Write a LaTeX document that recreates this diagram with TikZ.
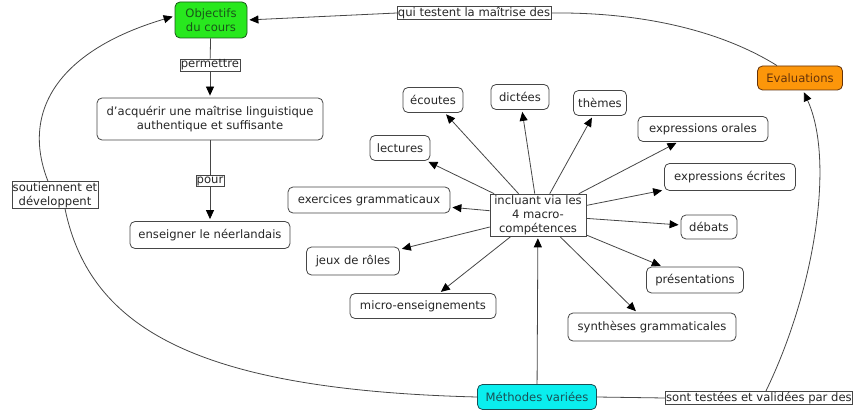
\documentclass[tikz,border=0pt]{standalone}
\usepackage{fontspec}
\setmainfont{DejaVu Sans}
\usetikzlibrary{arrows.meta}
\definecolor{cgreen}{RGB}{40,232,30}
\definecolor{cgreentx}{RGB}{25,85,25}
\definecolor{corange}{RGB}{252,150,10}
\definecolor{corangetx}{RGB}{100,50,10}
\definecolor{ccyan}{RGB}{10,238,238}
\definecolor{ccyantx}{RGB}{25,80,85}
\definecolor{cline}{RGB}{70,70,70}
\begin{document}
\begin{tikzpicture}[x=1pt,y=-1pt,
  concept/.style={draw=cline,rounded corners=5pt,fill=white,font=\fontsize{11.6}{14}\selectfont,align=center,inner xsep=4pt,inner ysep=3pt,line width=0.8pt,text=black!85},
  linkph/.style={draw=cline,fill=white,font=\fontsize{11.6}{14}\selectfont,align=center,inner sep=0.8pt,line width=0.6pt,text=black!85},
  conn/.style={draw=cline,line width=0.8pt},
  arr/.style={conn,-{Triangle[length=9pt,width=8pt,color=black]},shorten >=2pt}]
\useasboundingbox (0,0) rectangle (857,412);
\node[concept,fill=cgreen,draw=cgreentx,text=cgreentx,minimum width=72pt,minimum height=36pt] (obj) at (211,20) {Objectifs\\du cours};
\node[linkph] (qui) at (474,13) {qui testent la maîtrise des};
\node[concept,fill=corange,draw=corangetx,text=corangetx,minimum width=85pt,minimum height=24pt] (eval) at (800,78) {Evaluations};
\node[linkph] (perm) at (210,65) {permettre};
\node[concept,minimum width=226pt,minimum height=42pt] (acq) at (210,119) {d'acquérir une maîtrise linguistique\\authentique et suffisante};
\node[linkph] (pour) at (210,181) {pour};
\node[concept,minimum width=160pt,minimum height=27pt] (ens) at (210,235) {enseigner le néerlandais};
\node[linkph] (sout) at (55,195) {soutiennent et\\développent};
\node[concept,minimum width=60pt,minimum height=25pt] (ecout) at (433,100) {écoutes};
\node[concept,minimum width=58pt,minimum height=25pt] (dict) at (520,97) {dictées};
\node[concept,minimum width=53pt,minimum height=25pt] (them) at (600,103) {thèmes};
\node[concept,minimum width=130pt,minimum height=25pt] (expo) at (703,129) {expressions orales};
\node[concept,minimum width=60pt,minimum height=25pt] (lect) at (400,148) {lectures};
\node[concept,minimum width=162pt,minimum height=26pt] (exer) at (369,200) {exercices grammaticaux};
\node[linkph,minimum width=96pt,minimum height=42pt,inner sep=0pt] (inc) at (538,215) {incluant via les\\4 macro-\\compétences};
\node[concept,minimum width=131pt,minimum height=27pt] (expe) at (730,177) {expressions écrites};
\node[concept,minimum width=56pt,minimum height=24pt] (deb) at (709,227) {débats};
\node[concept,minimum width=97pt,minimum height=26pt] (pres) at (695,280) {présentations};
\node[concept,minimum width=93pt,minimum height=28pt] (jeux) at (353,261) {jeux de rôles};
\node[concept,minimum width=146pt,minimum height=25pt] (micro) at (423,306) {micro-enseignements};
\node[concept,minimum width=168pt,minimum height=28pt] (synth) at (652,327) {synthèses grammaticales};
\node[concept,fill=ccyan,draw=ccyantx,text=ccyantx,minimum width=119pt,minimum height=25pt] (meth) at (537,397) {Méthodes variées};
\node[linkph,anchor=west] (sont) at (665,398) {sont testées et validées par des};
% connectors
\draw[conn] ([xshift=-23pt]eval.north) .. controls (720,30) and (640,12) .. (qui.east);
\draw[arr] (qui.west) -- (obj.east);
\draw[conn] (obj) -- (perm);
\draw[arr] (perm) -- (acq);
\draw[conn] (acq) -- (pour);
\draw[arr] (pour) -- (ens);
\draw[conn] (meth.west) .. controls (200,390) and (90,330) .. ([xshift=10pt]sout.south);
\draw[arr] ([xshift=-7pt]sout.north) .. controls (20,110) and (60,50) .. ([yshift=4pt]obj.west);
\draw[conn] (meth.east) -- (sont.west);
\draw[arr] ([xshift=7pt]sont.north) .. controls (815,290) and (835,160) .. ([xshift=3pt]eval.south);
\draw[arr] (meth) -- (inc);
\foreach \t in {ecout,dict,them,expo,lect,exer,expe,deb,pres,jeux,micro,synth}
  \draw[arr] (inc) -- (\t);
\end{tikzpicture}
\end{document}
